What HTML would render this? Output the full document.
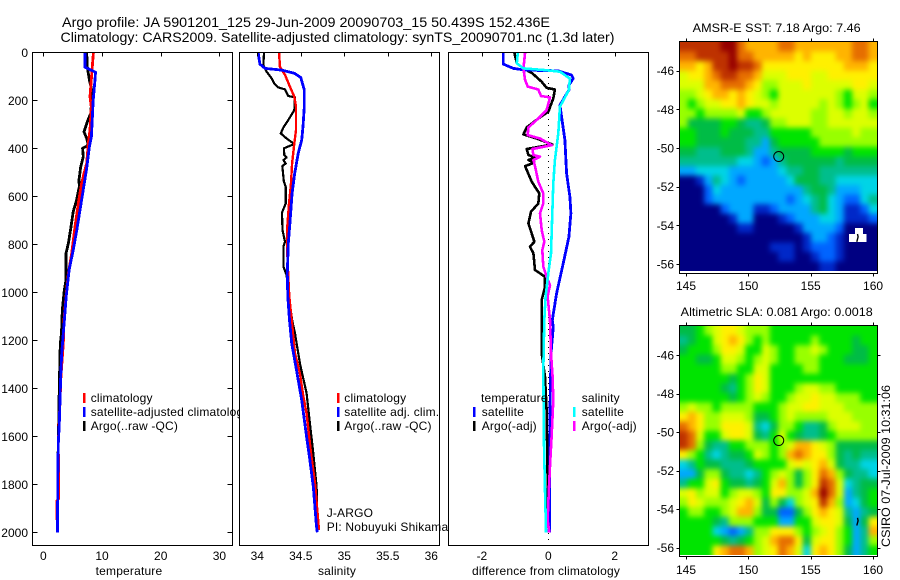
<!DOCTYPE html>
<html lang="en">
<head>
<meta charset="utf-8">
<title>Argo profile</title>
<style>
html,body{margin:0;padding:0;background:#fff;}
svg{display:block;font-family:"Liberation Sans",sans-serif;font-size:12px;fill:#000;}
text{fill:#000;}
.wide{letter-spacing:0.18px;}
</style>
</head>
<body>
<svg id="fig" xmlns="http://www.w3.org/2000/svg" width="900" height="580" viewBox="0 0 900 580">
<defs>
<filter id="soften" filterUnits="userSpaceOnUse" x="640" y="0" width="260" height="580" color-interpolation-filters="sRGB"><feGaussianBlur stdDeviation="2.6"/></filter>
<clipPath id="clip-map1"><rect x="680" y="42" width="197" height="229"/></clipPath>
<clipPath id="clip-map2"><rect x="680" y="326" width="197" height="229"/></clipPath>
</defs>
<rect x="0" y="0" width="900" height="580" fill="#fff"/>
<text x="62" y="27" font-size="14" textLength="488" lengthAdjust="spacingAndGlyphs">Argo profile: JA 5901201_125 29-Jun-2009 20090703_15 50.439S 152.436E</text>
<text x="60.5" y="42" font-size="14" textLength="554" lengthAdjust="spacingAndGlyphs">Climatology: CARS2009. Satellite-adjusted climatology: synTS_20090701.nc (1.3d later)</text>

<g id="panel1"></g>
<g id="legend1">
<rect x="83" y="393" width="2.5" height="10" fill="#f00"/>
<rect x="83" y="407" width="2.5" height="10" fill="#00f"/>
<rect x="83" y="421" width="2.5" height="10" fill="#000"/>
<text class="wide" x="90.7" y="402">climatology</text>
<text class="wide" x="90.7" y="416">satellite-adjusted climatology</text>
<text class="wide" x="90.7" y="430">Argo(..raw -QC)</text>
</g>

<g id="panel2"></g>
<g id="legend2">
<rect x="337" y="393" width="2.5" height="10" fill="#f00"/>
<rect x="337" y="407" width="2.5" height="10" fill="#00f"/>
<rect x="337" y="421" width="2.5" height="10" fill="#000"/>
<text class="wide" x="344.3" y="402">climatology</text>
<text class="wide" x="344.3" y="416">satellite adj. clim.</text>
<text class="wide" x="344.3" y="430">Argo(..raw -QC)</text>
<text class="wide" x="326.7" y="517">J-ARGO</text>
<text class="wide" x="326.7" y="531">PI: Nobuyuki Shikama</text>
</g>

<g id="panel3"></g>
<g id="legend3">
<rect x="473" y="407" width="2.5" height="10" fill="#00f"/>
<rect x="473" y="421" width="2.5" height="10" fill="#000"/>
<rect x="573" y="407" width="2.5" height="10" fill="#0ff"/>
<rect x="573" y="421" width="2.5" height="10" fill="#f0f"/>
<text class="wide" x="481" y="402">temperature</text>
<text class="wide" x="481.7" y="416">satellite</text>
<text class="wide" x="481.7" y="430">Argo(-adj)</text>
<text class="wide" x="581.7" y="402">salinity</text>
<text class="wide" x="581.7" y="416">satellite</text>
<text class="wide" x="581.7" y="430">Argo(-adj)</text>
</g>

<text class="wide" x="129" y="575" text-anchor="middle">temperature</text>
<text class="wide" x="337" y="575" text-anchor="middle">salinity</text>
<text class="wide" x="546" y="575" text-anchor="middle">difference from climatology</text>

<g id="map1"></g>
<g id="map2"></g>
<text x="776.7" y="32" text-anchor="middle" textLength="168" lengthAdjust="spacingAndGlyphs">AMSR-E SST: 7.18 Argo: 7.46</text>
<text x="776.7" y="316" text-anchor="middle" textLength="192" lengthAdjust="spacingAndGlyphs">Altimetric SLA: 0.081 Argo: 0.0018</text>
<text transform="translate(890,547) rotate(-90)" textLength="162" lengthAdjust="spacingAndGlyphs">CSIRO 07-Jul-2009 10:31:06</text>
</svg>

<script>
/* ---------- profile data ---------- */
const tempClimDepth = [2,60,130,185,227,324,380,463,505,546,630,727,838,921,1018,1116,1213,1352,1490,1630,1860,1870,1949];
const tempClim = [8.53,8.35,8.13,7.96,8.18,7.96,7.67,7.39,6.93,6.53,5.97,5.4,4.83,4.27,3.87,3.53,3.41,3.0,2.8,2.56,2.6,2.3,2.3];

const tempSatDepth = [2,62,83,115,199,352,393,483,574,657,741,824,907,1018,1116,1171,1255,1352,1546,1630,1768,1990,2000];
const tempSat = [7.1,7.1,8.9,8.8,8.5,8.2,7.85,7.4,6.8,6.25,5.7,5.1,4.4,3.9,3.6,3.41,3.13,2.96,2.73,2.56,2.47,2.42,2.42];

const tempArgoDepth = [2,60,116,157,199,255,289,331,359,387,400,435,477,532,560,616,664,727,796,838,949,991,1074,1171,1213,1394,1630,1700,2000];
const tempArgo = [7.39,7.5,7.85,8.24,8.24,8.07,7.5,6.93,7.39,7.67,6.7,6.82,6.37,6.08,6.14,5.68,5.1,4.72,4.27,3.87,3.87,3.58,3.24,3.1,2.9,2.73,2.56,2.5,2.45];

const salClimDepth = [2,60,95,143,185,227,324,380,463,546,630,727,838,935,1018,1116,1255,1338,1435,1505,1671,1796,1991];
const salClim = [34.25,34.26,34.32,34.375,34.425,34.445,34.445,34.425,34.40,34.387,34.364,34.345,34.345,34.356,34.368,34.395,34.433,34.49,34.53,34.567,34.617,34.663,34.709];

const salSatDepth = [2,49,67,74,88,105,157,227,310,366,421,505,588,713,796,921,1018,1116,1213,1324,1449,1602,1700,1810,1976,2000];
const salSat = [34.01,34.03,34.09,34.28,34.43,34.5,34.54,34.54,34.525,34.51,34.47,34.43,34.4,34.375,34.356,34.345,34.35,34.37,34.395,34.45,34.51,34.567,34.605,34.644,34.68,34.69];

const salArgoDepth = [2,53,81,109,130,146,155,182,188,241,282,313,338,359,382,400,428,438,449,463,474,539,560,630,668,741,789,810,893,928,1046,1116,1171,1296,1421,1546,1671,1810,1990];
const salArgo = [34.077,34.07,34.107,34.165,34.195,34.24,34.32,34.356,34.433,34.425,34.356,34.3,34.27,34.337,34.425,34.306,34.31,34.337,34.3,34.326,34.287,34.306,34.326,34.326,34.284,34.29,34.318,34.3,34.3,34.337,34.375,34.40,34.433,34.49,34.567,34.605,34.644,34.682,34.693];

const diffTempSatDepth = [2,49,67,74,77,95,109,137,157,220,269,366,505,602,671,769,880,1004,1116,1145,1255,1490,1990,2000];
const diffTempSat = [-1.355,-1.355,-1.05,-0.70,0.30,0.70,0.75,0.62,0.62,0.35,0.40,0.50,0.55,0.65,0.68,0.62,0.45,0.25,0.12,0.15,0.08,0.05,0.04,0.04];

const diffSalSatDepth = [2,46,67,74,81,109,157,227,338,449,546,671,838,921,1018,1116,1324,1630,1824,1990,2000];
const diffSalSat = [-0.92,-0.95,-0.75,-0.10,0.35,0.65,0.62,0.35,0.30,0.20,0.15,0.12,0.08,0,-0.08,-0.12,-0.15,-0.13,-0.10,-0.07,-0.07];

const diffTempArgoDepth = [2,46,67,88,123,148,155,192,248,276,313,342,359,384,403,428,438,449,460,474,539,588,630,664,713,789,810,838,907,935,977,1032,1116,1255,1352,1491,1768,1935,2000];
const diffTempArgo = [-1.02,-0.95,-0.75,-0.48,-0.20,-0.05,0.20,0.15,0,-0.30,-0.65,-0.75,-0.35,0.12,-0.65,-0.60,-0.40,-0.60,-0.42,-0.70,-0.50,-0.27,-0.30,-0.52,-0.60,-0.42,-0.55,-0.45,-0.40,-0.10,-0.10,-0.20,-0.20,-0.20,-0.10,-0.05,-0.02,-0.02,0.02];

const diffSalArgoDepth = [2,67,116,143,155,182,188,241,276,313,345,359,387,403,428,435,449,474,539,588,630,671,741,789,824,893,935,970,1018,1116,1255,1352,1449,1602,1699,1810,1949,1990,2000];
const diffSalArgo = [-0.70,-0.75,-0.70,-0.62,-0.30,-0.22,0.05,-0.05,-0.30,-0.60,-0.62,-0.25,0.10,-0.48,-0.45,-0.25,-0.45,-0.40,-0.30,-0.15,-0.15,-0.25,-0.20,-0.12,-0.18,-0.15,-0.05,0.05,-0.02,0.05,0.08,0.13,0.15,0.10,0.06,0.02,-0.02,0.02,0.02];

/* ---------- axis labels ---------- */
const depthTicks = [0,200,400,600,800,1000,1200,1400,1600,1800,2000];
const tempTicks = [0,10,20,30];
const salTicks = [34,34.5,35,35.5,36];
const salTickLabels = ['34','34.5','35','35.5','36'];
const diffTicks = [-2,0,2];
const lonTicks = [145,150,155,160];
const latTicks = [-46,-48,-50,-52,-54,-56];

/* ---------- map data (colour level per cell) ---------- */
const sstGrid = [
[13,13,13,13,13,14,14,12,11,11,11,11,12,12,11,11,11,11,11,11,11,12,12,11],
[12,12,13,13,13,13,14,12,12,11,11,11,11,11,10,11,10,10,10,11,11,12,12,11],
[11,11,10,11,13,13,14,13,13,12,10,10,10,10,10,10,10,10,10,10,11,11,11,10],
[9,10,10,11,12,13,13,12,12,11,9,9,9,10,10,10,9,9,10,10,10,10,10,10],
[9,9,9,11,11,12,12,12,11,10,8,8,9,9,9,10,9,9,9,9,9,10,10,9],
[8,8,9,10,11,11,10,11,10,9,8,7,9,9,9,9,9,9,9,8,7,9,9,8],
[8,7,8,9,9,10,10,11,10,9,9,8,9,9,9,9,9,8,9,8,7,8,9,7],
[8,8,7,8,8,8,8,9,7,7,8,9,9,9,9,9,8,8,9,9,8,9,9,8],
[8,6,6,6,6,7,7,6,5,5,6,8,8,9,9,9,8,8,9,9,9,9,9,9],
[7,7,6,6,6,7,6,6,6,5,5,7,7,7,7,7,8,8,8,8,8,9,8,8],
[7,7,6,6,6,6,6,6,5,5,3,6,7,7,7,7,7,8,8,8,8,8,8,8],
[6,6,5,5,5,6,6,6,5,3,3,5,6,6,6,6,7,7,7,7,6,7,7,7],
[5,5,5,5,5,5,5,4,4,3,2,3,5,6,6,6,6,6,6,5,6,6,6,6],
[3,3,4,4,4,4,3,3,3,3,3,3,4,5,5,6,6,5,5,5,5,5,5,5],
[0,0,1,3,5,4,3,2,3,3,3,3,3,4,6,6,6,5,5,4,4,4,4,4],
[0,0,0,2,4,3,3,3,3,3,3,3,3,3,3,5,6,6,5,3,3,3,4,4],
[0,0,0,2,3,3,3,3,3,3,3,3,3,2,3,4,5,6,4,3,2,2,4,5],
[0,0,0,0,0,2,3,3,3,1,1,2,3,3,3,3,5,6,4,3,1,1,2,4],
[0,0,0,0,0,0,1,3,3,0,0,0,1,2,3,3,3,4,4,3,1,1,1,2],
[0,0,0,0,0,0,0,1,1,0,0,0,0,0,1,3,3,3,3,2,0,0,0,0],
[0,0,0,0,0,0,0,0,0,0,0,0,0,0,0,1,3,3,2,1,0,0,0,0],
[0,0,0,0,0,0,0,0,0,0,0,1,1,1,0,1,2,2,2,1,0,0,0,0],
[0,0,0,0,0,0,0,0,0,0,0,0,1,1,0,0,1,2,2,1,0,0,0,0],
[0,0,0,0,0,0,0,0,0,0,0,0,0,0,0,0,0,1,1,0,0,0,0,0]
];
const slaGrid = [
[6,6,7,8,9,10,10,9,8,8,8,7,7,7,7,7,7,7,7,7,7,7,7,7],
[5,6,7,7,9,10,11,10,8,7,8,7,7,7,7,7,8,7,7,7,7,6,7,7],
[6,7,7,7,8,10,10,9,7,7,9,8,7,7,8,8,9,8,7,7,7,6,6,7],
[7,7,6,6,7,9,9,8,7,8,9,8,7,7,8,8,8,7,7,7,6,6,6,7],
[7,7,7,7,7,8,8,7,7,9,9,7,7,7,7,8,8,7,7,7,7,7,7,7],
[7,7,7,7,7,7,6,7,8,10,9,7,7,7,7,7,7,7,7,7,7,7,7,7],
[7,7,7,7,7,6,5,7,8,10,9,7,7,7,8,9,9,8,8,7,7,7,7,7],
[7,7,7,7,7,7,6,7,8,9,8,7,7,8,9,9,10,9,9,8,8,8,7,7],
[8,9,8,8,7,8,8,8,8,7,7,7,8,9,9,10,10,9,9,9,8,8,8,8],
[10,11,10,8,8,9,9,9,8,6,6,7,8,9,8,8,8,8,9,9,9,8,8,8],
[12,11,10,8,8,10,10,10,9,5,4,6,8,8,7,5,5,6,8,9,9,9,8,8],
[13,12,9,7,7,9,10,10,9,6,5,7,9,7,6,5,5,6,7,8,8,8,8,8],
[13,12,8,6,5,5,7,7,8,8,8,7,8,9,11,11,10,9,8,6,6,6,6,6],
[10,8,7,5,4,5,6,6,7,9,8,7,8,11,12,11,10,10,8,6,5,6,5,5],
[4,5,7,6,6,5,5,5,6,7,7,7,7,9,10,9,10,11,9,6,5,5,4,4],
[3,3,6,8,8,6,5,5,4,5,7,8,9,8,6,8,10,12,11,8,6,5,5,4],
[5,7,7,9,10,7,6,6,5,6,7,9,11,8,6,8,10,13,12,9,4,5,6,6],
[9,10,8,9,9,7,8,9,9,8,7,10,10,8,8,9,11,14,12,9,3,5,6,7],
[8,10,9,8,8,8,9,10,11,9,6,8,6,4,8,9,10,13,11,8,3,4,6,7],
[7,8,8,7,7,8,9,11,11,8,6,6,2,2,6,8,10,11,10,9,5,3,5,6],
[7,7,7,7,6,5,8,8,8,7,7,7,3,3,7,7,9,10,10,9,6,3,6,10],
[7,7,7,7,4,3,2,3,5,8,8,10,10,10,8,7,8,9,10,8,7,3,5,11],
[7,7,7,7,7,6,5,6,7,8,9,11,12,12,10,6,9,10,10,8,7,3,5,8],
[7,7,7,7,10,11,12,12,11,8,9,10,12,11,9,4,10,11,10,8,6,3,5,7]
];
const floatLon = [152.436];
const floatLat = [-50.439];
const islandLon = [158.7,158.8,158.75];
const islandLat = [-54.85,-54.6,-54.45];
const noDataLonWest = [158.55,158.07];
const noDataLonEast = [159.19,159.49];
const noDataLatNorth = [-54.14,-54.45];
const noDataLatSouth = [-54.45,-54.85];

/* ---------- rendering ---------- */
const NS = 'http://www.w3.org/2000/svg';
const palette = ['#000082','#0028c8','#0064ff','#00a8ff','#00d4e6','#00be8c','#00bc46','#00e400','#98ff00','#dcff00','#fff000','#ffb400','#e66e00','#be3200','#960000'];

function make(parent, tag, attrs, name) {
  const el = document.createElementNS(NS, tag);
  for (const k in attrs) el.setAttribute(k, attrs[k]);
  
  
  parent.appendChild(el);
  return el;
}
function label(parent, x, y, txt, anchor, name) {
  const t = make(parent, 'text', {x: x, y: y, 'text-anchor': anchor}, name);
  t.textContent = txt;
  return t;
}
const yDepth = d => 52.3 + 0.24 * d;

function profileLine(parent, depths, values, xFn, color, width, name) {
  const pts = depths.map((d, i) => xFn(values[i]).toFixed(1) + ',' + yDepth(d).toFixed(1)).join(' ');
  make(parent, 'polyline', {points: pts, fill: 'none', stroke: color, 'stroke-width': width, 'stroke-linejoin': 'round', 'shape-rendering': 'crispEdges'}, name);
}
function panelFrame(parent, left, right, xFn, ticks, tickText, withY, name) {
  const top = 52.5, bottom = 545.5;
  make(parent, 'rect', {x: left, y: top, width: right - left, height: bottom - top, fill: '#fff', stroke: 'none'}, name + '-background');
  return function finish() {
    make(parent, 'rect', {x: left, y: top, width: right - left, height: bottom - top, fill: 'none', stroke: '#000', 'stroke-width': 1, 'shape-rendering': 'crispEdges'}, name + '-frame');
    ticks.forEach((v, i) => {
      const x = Math.round(xFn(v)) + 0.5;
      make(parent, 'line', {x1: x, x2: x, y1: top, y2: top + 4, stroke: '#000', 'shape-rendering': 'crispEdges'}, 'x-tick');
      label(parent, xFn(v), 560, tickText[i], 'middle', 'x-tick-label');
    });
    if (withY) {
      depthTicks.forEach(d => {
        const y = Math.round(yDepth(d)) + 0.5;
        make(parent, 'line', {x1: left, x2: left + 5, y1: y, y2: y, stroke: '#000', 'shape-rendering': 'crispEdges'}, 'y-tick-left');
        make(parent, 'line', {x1: right - 5, x2: right, y1: y, y2: y, stroke: '#000', 'shape-rendering': 'crispEdges'}, 'y-tick-right');
        label(parent, 28, yDepth(d) + 4.5, String(d), 'end', 'y-tick-label');
      });
    }
  };
}

/* temperature panel */
const xTemp = v => 43.3 + 5.87 * v;
const p1 = document.getElementById('panel1');
const f1 = panelFrame(p1, 32.5, 232.5, xTemp, tempTicks, tempTicks.map(String), true, 'temperature-panel');
profileLine(p1, tempArgoDepth, tempArgo, xTemp, '#000', 2.8, 'argo-temperature-line');
profileLine(p1, tempClimDepth, tempClim, xTemp, '#f00', 2.8, 'climatology-temperature-line');
profileLine(p1, tempSatDepth, tempSat, xTemp, '#00f', 2.8, 'satellite-temperature-line');
f1();

/* salinity panel */
const xSal = v => 257.3 + 87 * (v - 34);
const p2 = document.getElementById('panel2');
const f2 = panelFrame(p2, 239.5, 439.5, xSal, salTicks, salTickLabels, false, 'salinity-panel');
profileLine(p2, salArgoDepth, salArgo, xSal, '#000', 2.2, 'argo-salinity-line');
profileLine(p2, salClimDepth, salClim, xSal, '#f00', 2.4, 'climatology-salinity-line');
profileLine(p2, salSatDepth, salSat, xSal, '#00f', 2.8, 'satellite-salinity-line');
f2();

/* difference panel */
const xDiff = v => 548.3 + 33.2 * v;
const p3 = document.getElementById('panel3');
const f3 = panelFrame(p3, 448.5, 648.5, xDiff, diffTicks, diffTicks.map(String), false, 'difference-panel');
make(p3, 'line', {x1: 548.5, x2: 548.5, y1: 53, y2: 545, stroke: '#000', 'stroke-width': 1, 'stroke-dasharray': '1 5', 'shape-rendering': 'crispEdges'}, 'zero-reference-line');
profileLine(p3, diffTempArgoDepth, diffTempArgo, xDiff, '#000', 2.6, 'argo-temperature-difference-line');
profileLine(p3, diffTempSatDepth, diffTempSat, xDiff, '#00f', 2.8, 'satellite-temperature-difference-line');
profileLine(p3, diffSalArgoDepth, diffSalArgo, xDiff, '#f0f', 2.6, 'argo-salinity-difference-line');
profileLine(p3, diffSalSatDepth, diffSalSat, xDiff, '#0ff', 2.6, 'satellite-salinity-difference-line');
f3();

/* maps */
function drawMap(id, grid, latRef, latRefY, latScale, boxTop, boxBottom, imgBottom, labelY, rightTicks, prefix) {
  const g = document.getElementById(id);
  const boxLeft = 679.5, boxRight = 877.5, imgRight = 876.7;
  const xLon = lon => 686 + 12.47 * (lon - 145);
  const yLat = lat => latRefY + latScale * (latRef - lat);
  const rows = grid.length, cols = grid[0].length;
  const imgTop = boxTop + 0.5;
  const lonStart = 145 + (boxLeft - 686) / 12.47;
  const lonStep = (imgRight - boxLeft) / 12.47 / cols;
  const latStart = latRef + (latRefY - imgTop) / latScale;
  const latStep = (imgBottom - imgTop) / latScale / rows;
  const clipped = make(g, 'g', {'clip-path': 'url(#clip-' + id + ')'}, prefix + '-image');
  const soft = make(clipped, 'g', {filter: 'url(#soften)'}, prefix + '-cells');
  grid.forEach((row, r) => {
    row.forEach((v, c) => {
      let x0 = xLon(lonStart + c * lonStep), x1 = xLon(lonStart + (c + 1) * lonStep);
      let y0 = yLat(latStart - r * latStep), y1 = yLat(latStart - (r + 1) * latStep);
      if (c === 0) x0 -= 12;
      if (c === cols - 1) x1 += 12;
      if (r === 0) y0 -= 12;
      if (r === rows - 1) y1 += 12;
      const cell = document.createElementNS(NS, 'rect');
      cell.setAttribute('x', x0.toFixed(2));
      cell.setAttribute('y', y0.toFixed(2));
      cell.setAttribute('width', (x1 - x0 + 0.4).toFixed(2));
      cell.setAttribute('height', (y1 - y0 + 0.4).toFixed(2));
      cell.setAttribute('fill', palette[v]);
      
      
      soft.appendChild(cell);
    });
  });
  if (prefix === 'sst-map') {
    noDataLonWest.forEach((w, i) => {
      make(g, 'rect', {x: xLon(w), y: yLat(noDataLatNorth[i]), width: xLon(noDataLonEast[i]) - xLon(w), height: yLat(noDataLatSouth[i]) - yLat(noDataLatNorth[i]), fill: '#fff', 'shape-rendering': 'crispEdges'}, 'no-data-patch');
    });
  }
  make(g, 'rect', {x: boxLeft, y: boxTop, width: boxRight - boxLeft, height: boxBottom - boxTop, fill: 'none', stroke: '#000', 'shape-rendering': 'crispEdges'}, prefix + '-frame');
  lonTicks.forEach(lon => {
    const x = Math.round(xLon(lon)) + 0.5;
    make(g, 'line', {x1: x, x2: x, y1: boxTop - 3, y2: boxTop, stroke: '#000', 'shape-rendering': 'crispEdges'}, 'lon-tick-top');
    make(g, 'line', {x1: x, x2: x, y1: boxBottom, y2: boxBottom + 3, stroke: '#000', 'shape-rendering': 'crispEdges'}, 'lon-tick-bottom');
    label(g, xLon(lon), labelY, String(lon), 'middle', 'lon-tick-label');
  });
  latTicks.forEach(lat => {
    const y = Math.round(yLat(lat)) + 0.5;
    make(g, 'line', {x1: boxLeft - 3, x2: boxLeft, y1: y, y2: y, stroke: '#000', 'shape-rendering': 'crispEdges'}, 'lat-tick-left');
    if (rightTicks) make(g, 'line', {x1: boxRight, x2: boxRight + 3, y1: y, y2: y, stroke: '#000', 'shape-rendering': 'crispEdges'}, 'lat-tick-right');
    label(g, 674, yLat(lat) + 4.5, String(lat), 'end', 'lat-tick-label');
  });
  const pts = islandLon.map((lon, i) => xLon(lon).toFixed(1) + ',' + yLat(islandLat[i]).toFixed(1)).join(' ');
  make(g, 'polyline', {points: pts, fill: 'none', stroke: '#000', 'stroke-width': 1.4}, 'island-coastline');
  make(g, 'circle', {cx: xLon(floatLon[0]), cy: yLat(floatLat[0]), r: 5, fill: 'none', stroke: '#000', 'stroke-width': 1}, 'float-position-marker');
}
drawMap('map1', sstGrid, -46, 70.7, 19.33, 41.5, 273.5, 271, 290, false, 'sst-map');
drawMap('map2', slaGrid, -46, 355, 19.27, 325.5, 556.5, 555, 574, true, 'sla-map');
</script>
</body>
</html>
